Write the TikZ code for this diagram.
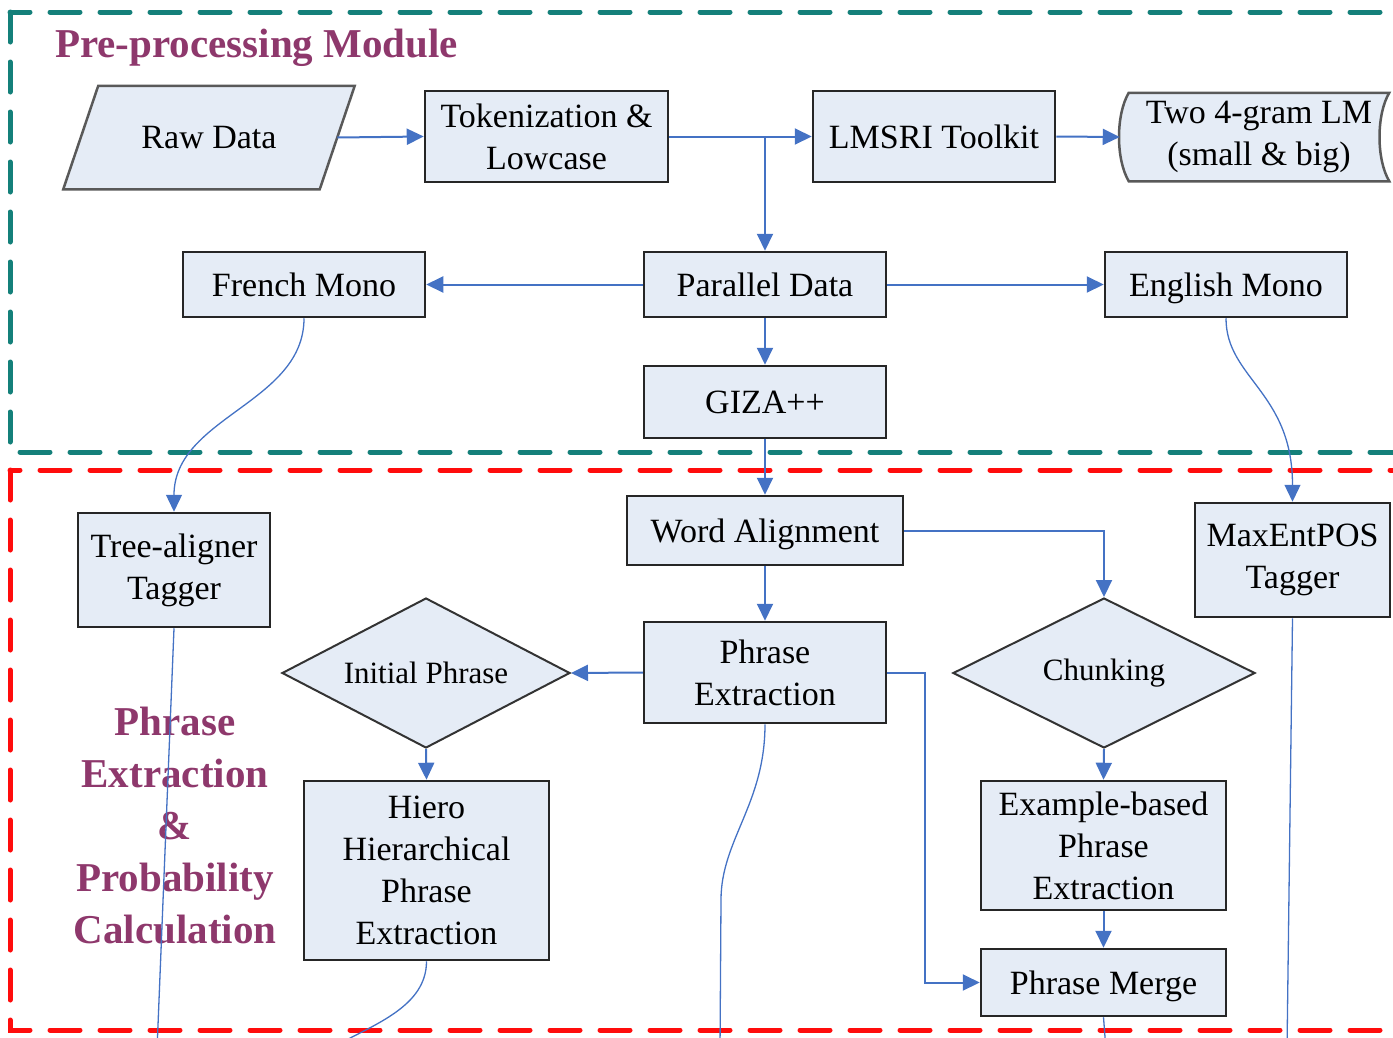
\documentclass[tikz,border=0pt]{standalone}
\usepackage{fontspec}
\setmainfont{Liberation Serif}
\usetikzlibrary{shapes.geometric,arrows.meta,backgrounds}
\definecolor{boxfill}{RGB}{229,236,246}
\definecolor{linkblue}{RGB}{68,114,196}
\definecolor{modteal}{RGB}{20,128,122}
\definecolor{modred}{RGB}{255,12,12}
\definecolor{titlepurple}{RGB}{142,56,108}
\begin{document}
\begin{tikzpicture}[x=1pt,y=-1pt,
  box/.style={draw=black!85,line width=2.5pt,fill=boxfill,inner sep=0pt,align=center,font=\fontsize{34}{42}\selectfont},
  single/.style={text depth=0pt},
  dec/.style={diamond,aspect=2,draw=black!80,line width=2pt,fill=boxfill,inner sep=0pt,font=\fontsize{31}{36}\selectfont},
  headed/.style={-{Triangle[length=17pt,width=16pt]}},
  link/.style={draw=linkblue,line width=2pt,headed},
  thin link/.style={draw=linkblue,line width=1.3pt},
  module/.style={dash pattern=on 30pt off 20pt,line cap=round,line width=5pt},
  modtitle/.style={text=titlepurple,inner sep=0pt,align=center,font=\fontsize{41}{52}\selectfont\bfseries}]
\useasboundingbox (0,0) rectangle (1393,1037);
\clip (0,0) rectangle (1393,1037);
% modules
\draw[module,modteal] (10,12) rectangle (1430,452);
\draw[module,modred] (10,470) rectangle (1430,1030);
\node[modtitle,anchor=west] (pretitle) at (55,48) {Pre-processing Module};
\node[modtitle] (petitle) at (175,826) {Phrase\\Extraction\\\&\\Probability\\Calculation};
% pre-processing
\node[box,single,draw=none,fill=none,minimum width=254pt,minimum height=101pt] (raw) at (209,137.5) {Raw Data};
\node[box,minimum width=243pt,minimum height=91pt] (tok) at (546.5,136.5) {Tokenization \&\\Lowcase};
\node[box,single,minimum width=242pt,minimum height=91pt] (lmsri) at (934,136.5) {LMSRI Toolkit};
\node[box,draw=none,fill=none,minimum width=258pt,minimum height=86pt] (lm) at (1259,137) {Two 4-gram LM\\(small \& big)};
\begin{pgfonlayer}{background}
\draw[fill=boxfill,draw=black!65,line width=2.5pt] ([xshift=17.5pt]raw.north west) -- ([xshift=17.5pt]raw.north east)
  -- ([xshift=-17.5pt]raw.south east) -- ([xshift=-17.5pt]raw.south west) -- cycle;
\draw[fill=boxfill,draw=black!65,line width=2.5pt] (lm.north west) -- (lm.north east)
  .. controls +(-13,22) and +(-13,-22) .. (lm.south east) -- (lm.south west)
  .. controls +(-13,-22) and +(-13,22) .. cycle;
\end{pgfonlayer}
\node[box,single,minimum width=242pt,minimum height=65pt] (para) at (765,284.5) {Parallel Data};
\node[box,single,minimum width=242pt,minimum height=65pt] (fr) at (304,284.5) {French Mono};
\node[box,single,minimum width=242pt,minimum height=65pt] (en) at (1226,284.5) {English Mono};
\node[box,single,minimum width=242pt,minimum height=72pt] (giza) at (765,402) {GIZA++};
% phrase extraction
\node[box,single,minimum width=276pt,minimum height=69pt] (wa) at (765,530.5) {Word Alignment};
\node[box,minimum width=192pt,minimum height=114pt] (tree) at (174,570) {Tree-aligner\\Tagger};
\node[box,minimum width=195pt,minimum height=114pt] (maxent) at (1292.5,560) {MaxEntPOS\\Tagger};
\node[box,minimum width=242pt,minimum height=101pt] (pe) at (765,672.5) {Phrase\\Extraction};
\node[dec,minimum width=288pt,minimum height=150pt] (init) at (426,673) {Initial Phrase};
\node[dec,minimum width=302pt,minimum height=150pt] (chunk) at (1104,673) {Chunking};
\node[box,minimum width=245pt,minimum height=179pt] (hiero) at (426.5,870.5) {Hiero\\Hierarchical\\Phrase\\Extraction};
\node[box,minimum width=245pt,minimum height=129pt] (ebpe) at (1103.5,845.5) {Example-based\\Phrase\\Extraction};
\node[box,single,minimum width=245pt,minimum height=67pt] (merge) at (1103.5,982.5) {Phrase Merge};
% loose ends below the picture
\coordinate (treeout) at (157,1050);
\coordinate (hieroout) at (335,1046);
\coordinate (peout) at (720,1050);
\coordinate (mergeout) at (1106,1050);
\coordinate (maxentout) at (1287,1050);
% connectors
\draw[link] (raw.east) -- (tok.west);
\draw[link] (tok.east) -- (lmsri.west);
\draw[link] (tok.east -| para.north) -- (para.north);
\draw[link] (lmsri.east) -- ([xshift=-9pt]lm.west);
\draw[link] (para.west) -- (fr.east);
\draw[link] (para.east) -- (en.west);
\draw[link] (para.south) -- (giza.north);
\draw[link] (giza.south) -- (wa.north);
\draw[link] (wa.south) -- (pe.north);
\draw[link] (wa.east) -| (chunk.north);
\draw[link] (pe.west) -- (init.east);
\draw[link] (pe.east) -- ++(38,0) |- (merge.west);
\draw[link] (init.south) -- (hiero.north);
\draw[link] (chunk.south) -- (ebpe.north);
\draw[link] (ebpe.south) -- (merge.north);
\draw[thin link,headed] (fr.south) .. controls +(0,85) and +(0,-95) .. (tree.north);
\draw[thin link,headed] (en.south) .. controls +(0,60) and +(0,-110) .. (maxent.north);
\draw[thin link] (tree.south) -- (treeout);
\draw[thin link] (hiero.south) .. controls +(0,45) and +(40,-22) .. (hieroout);
\draw[thin link] (pe.south) .. controls +(0,80) and +(0,-60) .. (721,900) -- (peout);
\draw[thin link] (merge.south) -- (mergeout);
\draw[thin link] (maxent.south) -- (maxentout);
\end{tikzpicture}
\end{document}
